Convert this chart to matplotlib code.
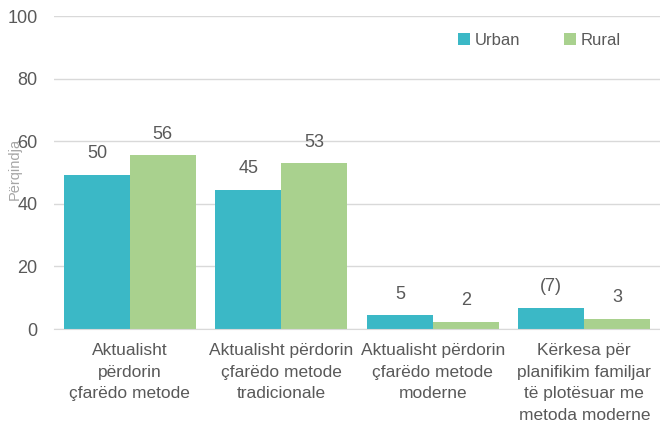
import numpy as np
import matplotlib.pyplot as plt

categories = [
    "Aktualisht\npërdorin\nçfarëdo metode",
    "Aktualisht përdorin\nçfarëdo metode\ntradicionale",
    "Aktualisht përdorin\nçfarëdo metode\nmoderne",
    "Kërkesa për\nplanifikim familjar\ntë plotësuar me\nmetoda moderne",
]
urban = [49.3, 44.5, 4.5, 6.8]
rural = [55.5, 53.0, 2.3, 3.3]
urban_labels = ["50", "45", "5", "(7)"]
rural_labels = ["56", "53", "2", "3"]

teal = "#3BB8C6"
green = "#A9D18E"
gray = "#595959"

plt.rcParams['font.family'] = ['Liberation Sans Narrow', 'Liberation Sans', 'DejaVu Sans']

fig = plt.figure(figsize=(6.6, 4.23), dpi=100)
ax = fig.add_axes([0.082, 0.222, 0.918, 0.74])

x = np.arange(len(categories))
w = 0.435
b1 = ax.bar(x - w / 2, urban, w, color=teal, label="Urban")
b2 = ax.bar(x + w / 2, rural, w, color=green, label="Rural")

for bars, labs in ((b1, urban_labels), (b2, rural_labels)):
    for rect, lab in zip(bars, labs):
        ax.annotate(lab, (rect.get_x() + rect.get_width() / 2, rect.get_height()),
                    xytext=(0, 9), textcoords="offset points",
                    ha="center", va="bottom", fontsize=13, color=gray)

ax.set_xlim(-0.5, 3.5)
ax.set_ylim(0, 100)
ax.set_yticks(range(0, 101, 20))
ax.yaxis.grid(True, color="#D9D9D9", linewidth=1)
ax.set_axisbelow(True)
for s in ["top", "right", "left"]:
    ax.spines[s].set_visible(False)
ax.spines["bottom"].set_color("#D9D9D9")
ax.tick_params(axis="y", length=0, labelsize=13, labelcolor=gray, pad=12)
ax.tick_params(axis="x", length=0, labelsize=12.5, labelcolor=gray, pad=10)
ax.set_xticks(x)
ax.set_xticklabels(categories, linespacing=1.55)

fig.text(0.023, 0.6, "Përqindja", rotation=90, ha="center", va="center",
         fontsize=10.5, color="#A6A6A6")

ax.legend(loc="upper right", bbox_to_anchor=(0.96, 0.995), ncol=2, frameon=False,
          handlelength=0.7, handleheight=0.7, handletextpad=0.3, columnspacing=2.6,
          fontsize=12, labelcolor=gray)

fig.savefig("out.png", dpi=100)
